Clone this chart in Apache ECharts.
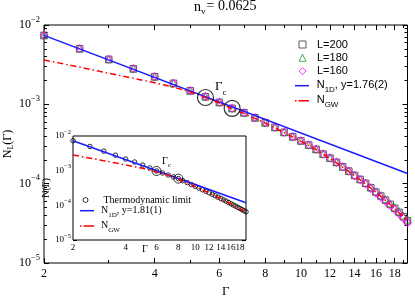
<!DOCTYPE html>
<html><head><meta charset="utf-8">
<script src="https://cdn.jsdelivr.net/npm/echarts@6/dist/echarts.min.js"></script>
<style>html,body{margin:0;padding:0;background:#fff}#c{width:415px;height:298px}</style>
</head><body><div id="c"></div>
<script>
// ---------- data ----------
const gammaVals = [2,2.5,3,3.5,4,4.5,5,5.5,6,6.5,7,7.5,8,8.5,9,9.5,10,10.5,11,11.5,12,12.5,13,13.5,14,14.5,15,15.5,16,16.5,17,17.5,18,18.5,19,19.5];
const nL200 = [7.4e-3,5.03e-3,3.69e-3,2.81e-3,2.23e-3,1.84e-3,1.485e-3,1.25e-3,1.06e-3,8.9e-4,7.83e-4,6.78e-4,5.86e-4,5.13e-4,4.44e-4,3.91e-4,3.47e-4,3.07e-4,2.71e-4,2.36e-4,2.10e-4,1.86e-4,1.63e-4,1.44e-4,1.27e-4,1.13e-4,1.01e-4,8.87e-5,7.83e-5,6.98e-5,6.21e-5,5.48e-5,4.89e-5,4.35e-5,3.83e-5,3.4e-5];
const nL180 = [7.4e-3,5.03e-3,3.69e-3,2.81e-3,2.23e-3,1.84e-3,1.485e-3,1.25e-3,1.06e-3,8.9e-4,7.83e-4,6.78e-4,5.86e-4,5.13e-4,4.44e-4,3.91e-4,3.47e-4,3.07e-4,2.71e-4,2.36e-4,2.10e-4,1.86e-4,1.63e-4,1.44e-4,1.28e-4,1.14e-4,1.03e-4,9.05e-5,8.0e-5,7.15e-5,6.38e-5,5.65e-5,5.05e-5,4.5e-5,3.98e-5,3.55e-5];
const nL160 = [7.4e-3,5.03e-3,3.69e-3,2.81e-3,2.23e-3,1.84e-3,1.485e-3,1.25e-3,1.06e-3,8.9e-4,7.83e-4,6.78e-4,5.86e-4,5.13e-4,4.44e-4,3.91e-4,3.47e-4,3.07e-4,2.71e-4,2.36e-4,2.10e-4,1.86e-4,1.63e-4,1.44e-4,1.26e-4,1.12e-4,9.95e-5,8.7e-5,7.65e-5,6.8e-5,6.02e-5,5.3e-5,4.72e-5,4.18e-5,3.67e-5,3.22e-5];
const gwMainG = [2,2.5,3,3.5,4,4.5,5,5.5,6,6.5,7,8,9,10,11,12,13,14,15,16,17,18,19,19.5];
const gwMainN = [3.62e-3,2.95e-3,2.46e-3,2.13e-3,1.87e-3,1.65e-3,1.43e-3,1.22e-3,1.04e-3,8.8e-4,7.7e-4,5.8e-4,4.4e-4,3.42e-4,2.68e-4,2.08e-4,1.61e-4,1.26e-4,9.9e-5,7.8e-5,6.15e-5,4.85e-5,3.8e-5,3.4e-5];
const n1dMainG = [2,19.5];
const n1dMainN = [7.4e-3,1.344e-4];
const gcMainG = [5.5,6.5];
const gcMainN = [1.22e-3,8.9e-4];

const thermoN = [7.3e-3,5.0e-3,3.67e-3,2.8e-3,2.17e-3,1.78e-3,1.45e-3,1.2e-3,9.8e-4,8.6e-4,7.5e-4,6.6e-4,5.9e-4,5.13e-4,4.5e-4,3.97e-4,3.53e-4,3.15e-4,2.82e-4,2.54e-4,2.3e-4,2.08e-4,1.89e-4,1.72e-4,1.57e-4,1.44e-4,1.32e-4,1.21e-4,1.11e-4,1.025e-4,9.48e-5,8.77e-5,8.13e-5,7.54e-5,7.0e-5,6.52e-5];
const gwInsetG = [2,3,4,5,6,7,8,9,10,12,14,16,18,19.5];
const gwInsetN = [2.83e-3,1.94e-3,1.46e-3,1.17e-3,9.2e-4,7.4e-4,5.85e-4,4.45e-4,3.5e-4,2.28e-4,1.55e-4,1.1e-4,8.05e-5,6.45e-5];
const n1dInsetG = [2,19.5];
const n1dInsetN = [7.3e-3,1.19e-4];
const gcInsetG = [6,8];
const gcInsetN = [9.8e-4,5.9e-4];

const xTickLabels = [2,4,6,8,10,12,14,16,18];
const xMinorTicks = [3,5,7,9,11,13,15,17,19];
const yDecades = [1e-5,1e-4,1e-3,1e-2];
const xRange = [2,19.5];
const yRange = [1e-5,1e-2];

// ---------- helpers ----------
const L = Math.log10;
const yMinorTicks = [];
yDecades.slice(0,3).forEach(d => { for (let k = 2; k <= 9; k++) yMinorTicks.push(d*k); });
const pts = (xs, ys) => xs.map((x,i) => [L(x), L(ys[i])]);
const SERIF = 'Liberation Serif';
const SANS = 'Liberation Sans';

function axes(dim, grid, range, majors, minors, majLen, minLen, label, nameCfg) {
  const pos = dim === 'x' ? ['bottom','top'] : ['left','right'];
  const list = [];
  [0,1].forEach(side => {
    [true,false].forEach(isMajor => {
      const a = {
        type:'value', gridIndex:grid, position:pos[side], min:L(range[0]), max:L(range[1]),
        axisLine:{show:false}, splitLine:{show:false},
        axisTick:{show:true, inside:true, length: isMajor?majLen:minLen,
          customValues:(isMajor?majors:minors).map(L), lineStyle:{color:'#000',width:1}},
        axisLabel:{show:false}
      };
      if (side === 0 && isMajor) {
        a.axisLabel = Object.assign({show:true, customValues: majors.map(L), showMinLabel:true, showMaxLabel:true}, label);
        Object.assign(a, nameCfg);
      }
      list.push(a);
    });
  });
  return list;
}
const xFmt = v => String(Math.round(Math.pow(10, v)));
const yFmt = v => '{b|10}{p|\u2212' + Math.round(-v) + '}';

const mainXLabel = {formatter:xFmt, margin:5, color:'#000', fontFamily:SERIF, fontSize:12};
const mainYLabel = {formatter:yFmt, margin:4, color:'#000',
  rich:{b:{fontFamily:SERIF, fontSize:12, lineHeight:20, verticalAlign:'middle', color:'#000'},
        p:{fontFamily:SERIF, fontSize:8.5, lineHeight:10, verticalAlign:'top', color:'#000'}}};
const insXLabel = {formatter:xFmt, margin:3, color:'#000', fontFamily:SERIF, fontSize:9};
const insYLabel = {formatter:yFmt, margin:2, color:'#000',
  rich:{b:{fontFamily:SERIF, fontSize:9, lineHeight:15, verticalAlign:'middle', color:'#000'},
        p:{fontFamily:SERIF, fontSize:6.5, lineHeight:8, verticalAlign:'top', color:'#000'}}};

const xAxes = [].concat(
  axes('x', 0, xRange, xTickLabels, xMinorTicks, 5, 3, mainXLabel,
    {name:'Γ', nameLocation:'middle', nameGap:22, nameTextStyle:{fontFamily:SERIF, fontSize:13, color:'#000'}}),
  axes('x', 1, xRange, xTickLabels, xMinorTicks, 4, 2, insXLabel, {})
);
const yAxes = [].concat(
  axes('y', 0, yRange, yDecades, yMinorTicks, 5, 3, mainYLabel, {}),
  axes('y', 1, yRange, yDecades, yMinorTicks, 4, 2, insYLabel,
    {name:'N(Γ)', nameLocation:'middle', nameGap:8, nameRotate:90,
     nameTextStyle:{fontFamily:SERIF, fontSize:10, color:'#000'}})
);

const hollow = (c, w) => ({color:'rgba(0,0,0,0)', borderColor:c, borderWidth:w||1});
const legendNames = {
  'L=200':'L=200', 'L=180':'L=180', 'L=160':'L=160',
  'N1D_main':'{n|N}{s|1D}{n|, y=1.76(2)}', 'NGW_main':'{n|N}{s|GW}',
  'Thermo':'Thermodynamic limit', 'N1D_ins':'{n|N}{s|1D}{n|, y=1.81(1)}', 'NGW_ins':'{n|N}{s|GW}'
};
const solidIcon = 'path://M0,0h14v1.5h-14z';
const dashDotIcon = 'path://M0,0h1.5v1.5h-1.5zM3.5,0h10.5v1.5h-10.5z';
const sansText = {fontFamily:SANS, fontSize:11, color:'#000', lineHeight:12,
  rich:{n:{fontFamily:SANS, fontSize:11, lineHeight:12, verticalAlign:'top', color:'#000'},
        s:{fontFamily:SANS, fontSize:8, lineHeight:8, padding:[6,0,0,0], verticalAlign:'top', color:'#000'}}};
const serifText = {fontFamily:SERIF, fontSize:10, color:'#000', lineHeight:11,
  rich:{n:{fontFamily:SERIF, fontSize:10, lineHeight:11, verticalAlign:'top', color:'#000'},
        s:{fontFamily:SERIF, fontSize:7, lineHeight:7, padding:[6,0,0,0], verticalAlign:'top', color:'#000'}}};
const legBase = {orient:'vertical', padding:0, selectedMode:false, formatter:n => legendNames[n],
  itemStyle:{borderWidth:1}, z:10};

const option = {
  animation:false,
  backgroundColor:'#fff',
  title:{text:'n{s|v}{t|= 0.0625}', left:194, top:-1, padding:0,
    textStyle:{fontFamily:SERIF, fontSize:14, fontWeight:'normal', color:'#000', lineHeight:16,
      rich:{s:{fontFamily:SERIF, fontSize:9, lineHeight:9, padding:[8,0,0,0], verticalAlign:'top', color:'#000'},
            t:{fontFamily:SERIF, fontSize:14, lineHeight:16, verticalAlign:'top', color:'#000', padding:[0,0,0,1]}}}},
  grid:[
    {left:44, top:25, width:363.5, height:238, show:true, borderColor:'#000', borderWidth:1, backgroundColor:'rgba(0,0,0,0)', outerBoundsMode:'none'},
    {left:73, top:136, width:173, height:104, show:true, borderColor:'#000', borderWidth:1, backgroundColor:'#fff', outerBoundsMode:'none', z:5}
  ],
  xAxis:xAxes,
  yAxis:yAxes,
  legend:[
    Object.assign({}, legBase, {left:298.5, top:38.5, itemWidth:7, itemHeight:7, itemGap:1.3,
      data:['L=200','L=180','L=160'], textStyle:Object.assign({padding:[0,0,0,6]}, sansText)}),
    Object.assign({}, legBase, {left:295, top:79.7, itemWidth:14, itemHeight:1.5, itemGap:1,
      data:[{name:'N1D_main', icon:solidIcon}, {name:'NGW_main', icon:dashDotIcon}],
      textStyle:Object.assign({padding:[0,0,0,2.7]}, sansText)}),
    Object.assign({}, legBase, {left:82.5, top:194.5, itemWidth:5, itemHeight:5, itemGap:1,
      data:['Thermo'], textStyle:Object.assign({padding:[0,0,0,10.5]}, serifText)}),
    Object.assign({}, legBase, {left:80, top:205.2, itemWidth:18, itemHeight:1.5, itemGap:2.3,
      data:[{name:'N1D_ins', icon:solidIcon}, {name:'NGW_ins', icon:dashDotIcon}],
      textStyle:Object.assign({padding:[0,0,0,0]}, serifText)})
  ],
  graphic:[
    {type:'text', x:7.5, y:144, rotation:Math.PI/2, z:20, style:{text:'N{s|L}(Γ)', fill:'#000',
      font:'12px ' + SERIF, align:'center', verticalAlign:'middle', lineHeight:14,
      rich:{s:{fontFamily:SERIF, fontSize:8, padding:[6,0,0,0], verticalAlign:'top', lineHeight:8, fill:'#000'}}}},
    {type:'text', x:215, y:80, z:20, style:{text:'Γ{s|c}', fill:'#000',
      font:'13px ' + SERIF, rich:{s:{fontFamily:SERIF, fontSize:9, padding:[8,0,0,0], verticalAlign:'top', lineHeight:9, fill:'#000'}}}},
    {type:'text', x:162, y:156, z:20, style:{text:'Γ{s|c}', fill:'#000',
      font:'10px ' + SERIF, rich:{s:{fontFamily:SERIF, fontSize:7, padding:[6,0,0,0], verticalAlign:'top', lineHeight:7, fill:'#000'}}}},
    {type:'text', x:145, y:249, z:20, style:{text:'Γ', fill:'#000', font:'10px ' + SERIF, align:'center', verticalAlign:'middle'}}
  ],
  series:[
    {name:'L=200', type:'scatter', xAxisIndex:0, yAxisIndex:0, data:pts(gammaVals,nL200), symbol:'rect', symbolSize:6.5, clip:false,
     itemStyle:hollow('#333')},
    {name:'L=180', type:'scatter', xAxisIndex:0, yAxisIndex:0, data:pts(gammaVals,nL180), symbol:'triangle', symbolSize:7, clip:false,
     itemStyle:hollow('#1f9a1f')},
    {name:'L=160', type:'scatter', xAxisIndex:0, yAxisIndex:0, data:pts(gammaVals,nL160), symbol:'diamond', symbolSize:[7,8], clip:false,
     itemStyle:hollow('#ff00ff')},
    {name:'N1D_main', type:'line', xAxisIndex:0, yAxisIndex:0, data:pts(n1dMainG,n1dMainN), symbol:'none',
     lineStyle:{color:'#1a1aff', width:1.5}, itemStyle:{color:'#1a1aff'}, z:3},
    {name:'NGW_main', type:'line', xAxisIndex:0, yAxisIndex:0, data:pts(gwMainG,gwMainN), symbol:'none',
     lineStyle:{color:'#ff0000', width:1.5, type:[6,3,1.5,3]}, itemStyle:{color:'#ff0000'}, z:3},
    {name:'gcMain', type:'scatter', xAxisIndex:0, yAxisIndex:0, data:pts(gcMainG,gcMainN), symbol:'circle', symbolSize:16, clip:false,
     itemStyle:hollow('#000', 1.2), z:4},

    {name:'Thermo', type:'scatter', xAxisIndex:4, yAxisIndex:4, data:pts(gammaVals,thermoN), symbol:'circle', symbolSize:4.5, clip:false,
     itemStyle:hollow('#000'), z:6},
    {name:'N1D_ins', type:'line', xAxisIndex:4, yAxisIndex:4, data:pts(n1dInsetG,n1dInsetN), symbol:'none',
     lineStyle:{color:'#1a1aff', width:1.5}, itemStyle:{color:'#1a1aff'}, z:7},
    {name:'NGW_ins', type:'line', xAxisIndex:4, yAxisIndex:4, data:pts(gwInsetG,gwInsetN), symbol:'none',
     lineStyle:{color:'#ff0000', width:1.5, type:[6,3,1.5,3]}, itemStyle:{color:'#ff0000'}, z:7},
    {name:'gcIns', type:'scatter', xAxisIndex:4, yAxisIndex:4, data:pts(gcInsetG,gcInsetN), symbol:'circle', symbolSize:9, clip:false,
     itemStyle:hollow('#000', 1), z:8}
  ]
};
const chart = echarts.init(document.getElementById('c'), null, {renderer:'canvas'});
chart.setOption(option);
</script></body></html>
